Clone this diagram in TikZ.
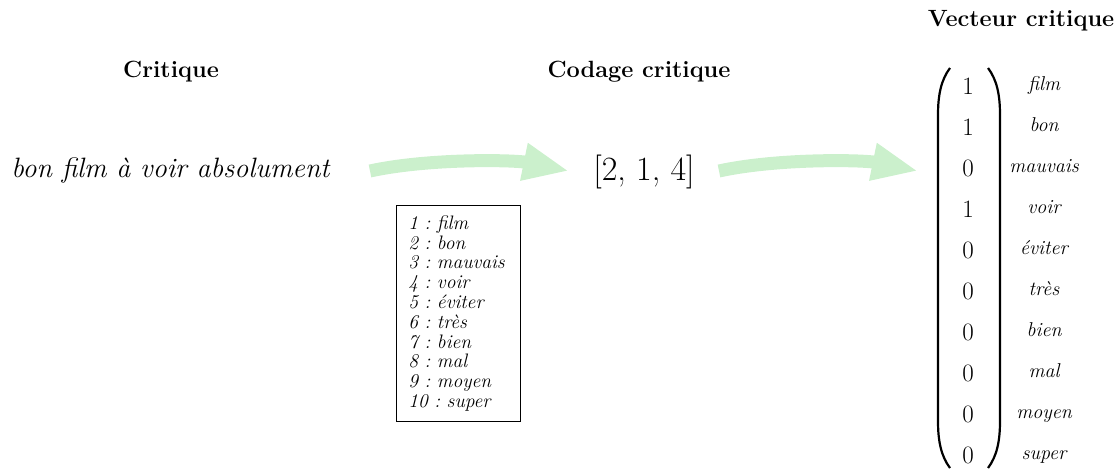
\documentclass[tikz,border=0pt]{standalone}
\usepackage{fontspec}
\usetikzlibrary{arrows.meta}
\definecolor{arrowgreen}{RGB}{203,240,204}
\frenchspacing
\tikzset{
 titletext/.style={font=\fontsize{23.5}{28}\selectfont\bfseries, anchor=base, inner sep=0pt},
 phrase/.style={font=\fontsize{28}{33}\selectfont\itshape, anchor=base, inner sep=0pt},
 codetext/.style={font=\fontsize{34}{40}\selectfont, anchor=base, inner sep=0pt},
 bigarrow/.style={draw=arrowgreen, line width=13pt, -{Triangle[length=46pt,width=35pt]}},
 legendbox/.style={draw=black, line width=0.8pt, anchor=north west, inner xsep=12pt, inner ysep=0pt, text width=100pt, minimum height=216pt, align=left, font=\fontsize{19.5}{19.8}\selectfont\itshape},
 entry/.style={font=\fontsize{25}{29}\selectfont, anchor=base, inner sep=0pt},
 wlabel/.style={font=\fontsize{20}{24}\selectfont\itshape, anchor=base, inner sep=0pt},
 paren/.style={line width=2.2pt}
}
\begin{document}
\begin{tikzpicture}[x=1pt,y=-1pt]
\useasboundingbox (0,0) rectangle (1119,470);
% titles
\node[titletext] (t1) at (171,78) {Critique};
\node[titletext] (t2) at (639,78) {Codage critique};
\node[titletext] (t3) at (1021,27) {Vecteur critique};
% phrase and code
\node[phrase] (phrase) at (170.5,178) {bon film à voir absolument};
\node[codetext] (code) at (644,181) {[2, 1, 4]};
% arrows
\coordinate (a1s) at (370,171);
\coordinate (a1e) at (569,171);
\coordinate (a2s) at (719,171);
\coordinate (a2e) at (918,171);
\draw[bigarrow] (a1s) .. controls +(60,-13) and +(-54,-11) .. (a1e);
\draw[bigarrow] (a2s) .. controls +(60,-13) and +(-54,-11) .. (a2e);
% legend
\node[legendbox] (legend) at (396,205) {1 : film\\2 : bon\\3 : mauvais\\4 : voir\\5 : éviter\\6 : très\\7 : bien\\8 : mal\\9 : moyen\\10 : super};
% vector
\foreach \v/\w [count=\i from 0] in {1/film,1/bon,0/mauvais,1/voir,0/éviter,0/très,0/bien,0/mal,0/moyen,0/super} {
  \node[entry] (e\i) at (968,95+40.9*\i) {\v};
  \node[wlabel] (w\i) at (1044,91+40.9*\i) {\w};
}
\draw[paren] (950,68) .. controls (941,80) and (938,95) .. (938,115) -- (938,421) .. controls (938,441) and (941,456) .. (950,468);
\draw[paren] (988,68) .. controls (997,80) and (1000,95) .. (1000,115) -- (1000,421) .. controls (1000,441) and (997,456) .. (988,468);
\end{tikzpicture}
\end{document}
